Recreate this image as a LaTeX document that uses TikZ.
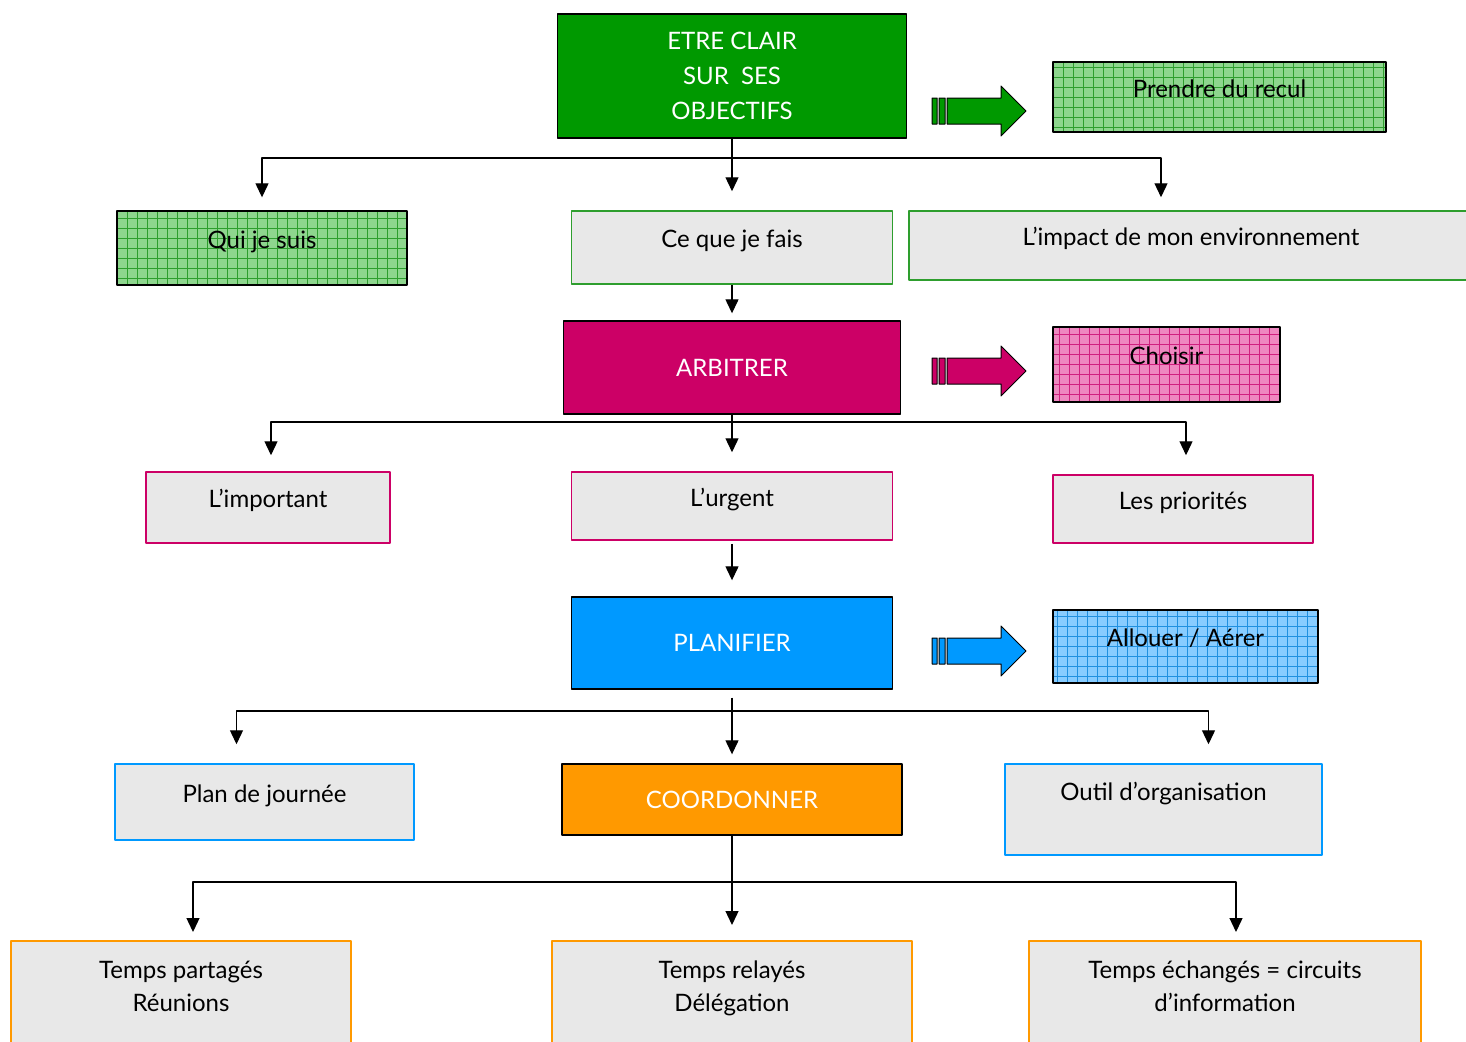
\documentclass[tikz,border=0pt]{standalone}
\usepackage{fontspec}
\setmainfont{Lato}
\usetikzlibrary{arrows.meta}
\definecolor{gFull}{HTML}{009900}
\definecolor{gGrid}{HTML}{8ED68E}
\definecolor{gLine}{HTML}{2E9E2E}
\definecolor{pFull}{HTML}{CC0066}
\definecolor{pGrid}{HTML}{EE88C0}
\definecolor{pLine}{HTML}{D0207F}
\definecolor{bFull}{HTML}{0099FF}
\definecolor{bGrid}{HTML}{88CCFF}
\definecolor{bLine}{HTML}{2090E0}
\definecolor{oFull}{HTML}{FF9900}
\definecolor{lightbox}{HTML}{E8E8E8}
\tikzset{
  mainbox/.style={draw=black, line width=1.4pt, fill=#1, text=white, align=center,
    font=\fontsize{24}{35}\selectfont},
  gridbox/.style n args={2}{draw=black, line width=1.4pt, fill=#1,
    text height=0pt, text depth=0pt,
    path picture={\draw[#2, line width=.5pt, step=10pt]
      (path picture bounding box.south west) grid (path picture bounding box.north east);}},
  plainbox/.style={draw=#1, line width=1.5pt, fill=lightbox, text height=0pt, text depth=0pt},
  lowbox/.style={draw=#1, line width=1.5pt, fill=lightbox, anchor=north,
    minimum height=120pt, text height=0pt, text depth=44pt},
  conn/.style={line width=1.3pt, -{Triangle[width=13pt,length=14pt]}},
}
\begin{document}
\begin{tikzpicture}[x=1pt, y=-1pt, line join=round,
  font=\fontsize{24}{33}\selectfont]
\fill[white] (0,0) rectangle (1466,1041);
\useasboundingbox (0,0) rectangle (1466,1041);
% objectifs
\node[mainbox=gFull, minimum width=349pt, minimum height=124pt] (etre) at (732,76)
  {ETRE CLAIR\\SUR\ \ SES\\OBJECTIFS};
\node[gridbox={gGrid}{gLine}, minimum width=333pt, minimum height=70pt] (recul) at (1219.5,97) {Prendre du recul};
\node[gridbox={gGrid}{gLine}, minimum width=290pt, minimum height=74pt] (qui) at (262,248) {Qui je suis};
\node[plainbox=gLine, minimum width=321pt, minimum height=73pt] (ceque) at (732,247.5) {Ce que je fais};
\node[plainbox=gLine, minimum width=600pt, minimum height=69pt] (impact) at (1209,245.5) {\hspace*{-36pt}L’impact de mon environnement};
% arbitrer
\node[mainbox=pFull, minimum width=337pt, minimum height=93pt] (arb) at (732,367.5) {ARBITRER};
\node[gridbox={pGrid}{pLine}, minimum width=227pt, minimum height=75pt] (choisir) at (1166.5,364.5) {Choisir};
\node[plainbox=pFull, minimum width=244pt, minimum height=71pt] (important) at (268,507.5) {L’important};
\node[plainbox=pFull, minimum width=321pt, minimum height=68pt] (urgent) at (732,506) {L’urgent};
\node[plainbox=pFull, minimum width=260pt, minimum height=68pt] (prio) at (1183,509) {Les priorités};
% planifier
\node[mainbox=bFull, minimum width=321pt, minimum height=92pt] (plan) at (732,643) {PLANIFIER};
\node[gridbox={bGrid}{bLine}, minimum width=265pt, minimum height=73pt] (allouer) at (1185.5,646.5) {Allouer / Aérer};
\node[plainbox=bFull, minimum width=299pt, minimum height=76pt] (journee) at (264.5,802) {Plan de journée};
\node[plainbox=bFull, minimum width=317pt, minimum height=91pt] (outil) at (1163.5,809.5) {\raisebox{9pt}{Outil d’organisation}};
% coordonner
\node[mainbox=oFull, minimum width=340pt, minimum height=71pt] (coord) at (732,799.5) {COORDONNER};
\node[lowbox=oFull, minimum width=340pt] (partages) at (181,940)
  {\begin{tabular}[t]{@{}c@{}}Temps partagés\\Réunions\end{tabular}};
\node[lowbox=oFull, minimum width=360pt] (relayes) at (732,940)
  {\begin{tabular}[t]{@{}c@{}}Temps relayés\\Délégation\end{tabular}};
\node[lowbox=oFull, minimum width=392pt] (echanges) at (1225,940)
  {\begin{tabular}[t]{@{}c@{}}Temps échangés = circuits\\d’information\end{tabular}};
% block arrows
\foreach \c/\y in {gFull/111, pFull/371, bFull/651}{
  \draw[black, line width=1pt, fill=\c]
    (932,\y-13) rectangle (937,\y+13)
    (939,\y-13) rectangle (945,\y+13)
    (947,\y-13) -- (1001,\y-13) -- (1001,\y-25) -- (1026,\y)
      -- (1001,\y+25) -- (1001,\y+13) -- (947,\y+13) -- cycle;
}
% connectors
\coordinate (j1) at (732,158);
\coordinate (j2) at (732,422);
\coordinate (j3) at (732,711);
\coordinate (j4) at (732,882);
\draw[conn, shorten >=19pt] (etre.south) -- (ceque.north);
\draw[conn, shorten >=13pt] (j1) -| (qui.north);
\draw[conn, shorten >=13pt] (j1) -| ([xshift=-48pt]impact.north);
\draw[conn, shorten >=7pt] (ceque.south) -- (arb.north);
\draw[conn, shorten >=19pt] (arb.south) -- (urgent.north);
\draw[conn, shorten >=16pt] (j2) -| ([xshift=3pt]important.north);
\draw[conn, shorten >=19pt] (j2) -| ([xshift=3pt]prio.north);
\draw[conn, shorten <=3pt, shorten >=16pt] (urgent.south) -- (plan.north);
\draw[conn, shorten <=8pt, shorten >=9pt] (plan.south) -- (coord.north);
\draw[conn, shorten >=19pt] (j3) -| ([xshift=-28pt]journee.north);
\draw[conn, shorten >=19pt] (j3) -| ([xshift=45pt]outil.north);
\draw[conn, shorten >=15pt] (coord.south) -- (relayes.north);
\draw[conn, shorten >=8pt] (j4) -| ([xshift=12pt]partages.north);
\draw[conn, shorten >=8pt] (j4) -| ([xshift=11pt]echanges.north);
\end{tikzpicture}
\end{document}
